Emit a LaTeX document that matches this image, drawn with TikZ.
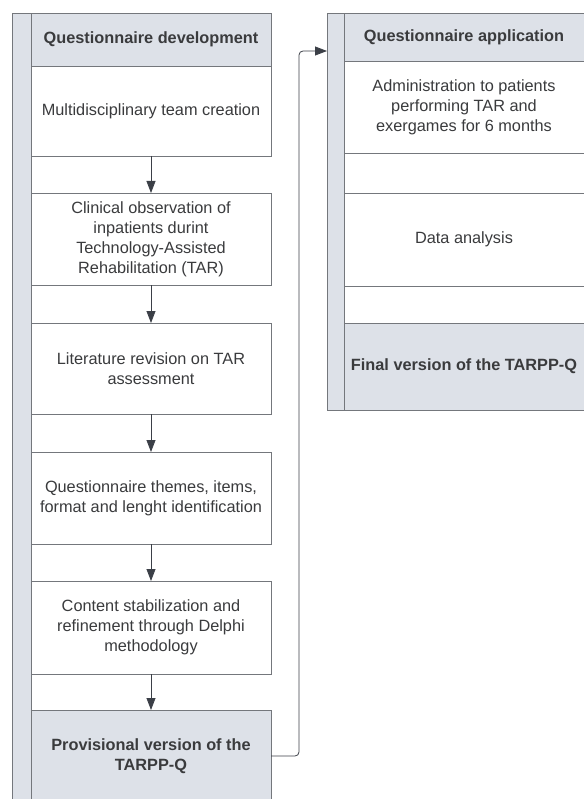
\documentclass[tikz,border=0pt]{standalone}
\usepackage{fontspec}
\setmainfont{Liberation Sans}
\usepackage{xcolor}
\usepackage{tikz}
\usetikzlibrary{arrows.meta,positioning}
\definecolor{lanefill}{HTML}{DDE1E8}
\definecolor{lanedraw}{HTML}{74777C}
\definecolor{inktext}{HTML}{3A3B3D}
\definecolor{inkarrow}{HTML}{3B3F47}

\begin{document}
\begin{tikzpicture}[
    x=1pt, y=-1pt,
    >={Triangle[length=12pt,width=9pt]},
    every node/.style={font=\fontsize{16.3}{20}\selectfont, text=inktext},
    box/.style={draw=lanedraw, rectangle, minimum width=240pt, align=center, fill=white, line width=0.8pt, inner sep=0pt, outer sep=0pt},
    head/.style={box, fill=lanefill, font=\fontsize{16.3}{20}\selectfont\bfseries},
    bar/.style={draw=lanedraw, rectangle, fill=lanefill, line width=0.8pt, inner sep=0pt, outer sep=0pt, anchor=north west},
    link/.style={->, draw=inkarrow, line width=0.8pt}
]
\useasboundingbox (0,0) rectangle (583,799);

% --- Lane bars ---
\node[bar, minimum width=19pt, minimum height=820pt] (devbar) at (12,13) {};
\node[bar, minimum width=17pt, minimum height=397pt] (appbar) at (327,13) {};

% --- Left lane: questionnaire development ---
\node[head, minimum height=53pt] (devhead) at (151,39.5) {Questionnaire development};
\node[box, minimum height=90pt, below=0pt of devhead] (team) {Multidisciplinary team creation};
\node[box, minimum height=92pt, below=37pt of team] (clinic) {Clinical observation of\\inpatients durint\\Technology-Assisted\\Rehabilitation (TAR)};
\node[box, minimum height=91pt, below=38pt of clinic] (litrev) {Literature revision on TAR\\assessment};
\node[box, minimum height=92pt, below=38pt of litrev] (themes) {Questionnaire themes, items,\\format and lenght identification};
\node[box, minimum height=93pt, below=37pt of themes] (delphi) {Content stabilization and\\refinement through Delphi\\methodology};
\node[head, minimum height=92pt, below=36pt of delphi] (prov) {Provisional version of the\\TARPP-Q};

% --- Right lane: questionnaire application ---
\node[head, minimum height=48pt] (apphead) at (464,37) {Questionnaire application};
\node[box, minimum height=92pt, below=0pt of apphead] (admin) {Administration to patients\\performing TAR and\\exergames for 6 months};
\node[box, minimum height=40pt, below=0pt of admin] (gapa) {};
\node[box, minimum height=93pt, below=0pt of gapa] (data) {Data analysis};
\node[box, minimum height=37pt, below=0pt of data] (gapb) {};
\node[head, minimum height=87pt, below=0pt of gapb] (final) {Final version of the TARPP-Q};

% --- Flow inside left lane ---
\draw[link] (team) -- (clinic);
\draw[link] (clinic) -- (litrev);
\draw[link] (litrev) -- (themes);
\draw[link] (themes) -- (delphi);
\draw[link] (delphi) -- (prov);

% --- Hand-over to the application lane ---
\coordinate (appin) at (appbar.north west |- 0,51);
\draw[link, rounded corners=4pt] (prov.east) -- ++(28,0) |- (appin);
\end{tikzpicture}
\end{document}
